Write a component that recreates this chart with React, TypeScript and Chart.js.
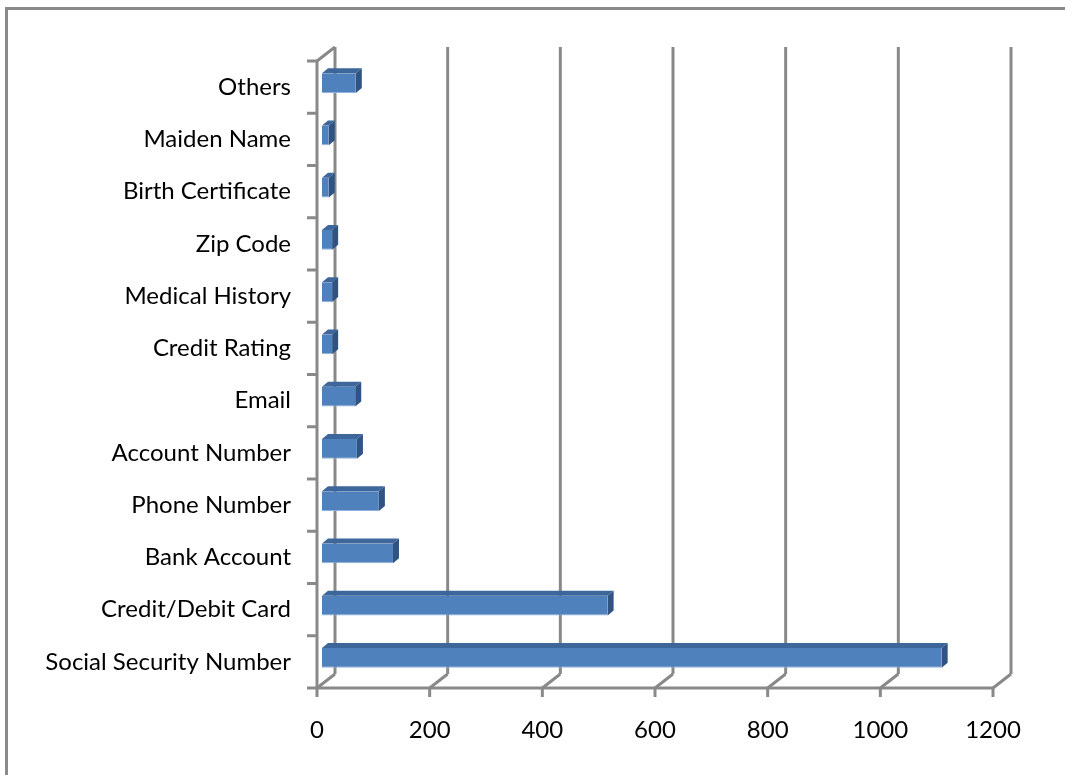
import React, { useEffect, useRef } from "react";
import { Chart, registerables } from "chart.js";

Chart.register(...registerables);

const categories = [
  "Others",
  "Maiden Name",
  "Birth Certificate",
  "Zip Code",
  "Medical History",
  "Credit Rating",
  "Email",
  "Account Number",
  "Phone Number",
  "Bank Account",
  "Credit/Debit Card",
  "Social Security Number",
];
const counts = [60, 12, 12, 18, 18, 18, 59, 62, 101, 126, 507, 1100];
const xTicks = [0, 200, 400, 600, 800, 1000, 1200];

const GRID = "#898989";
const FRONT = "#4f81bd";
const TOP = "#3d679b";
const SIDE = "#2f5483";
const WALL = { dx: 18, dy: -14 };
const BAR_SHIFT = { dx: 5, dy: -4 };
const BAR_DEPTH = { dx: 6, dy: -5 };

const frame3d = {
  id: "frame3d",
  beforeDatasetsDraw(chart: any) {
    const { ctx, chartArea, scales } = chart;
    const { left, right, top, bottom } = chartArea;
    const x = scales.x;
    const line = (x1: number, y1: number, x2: number, y2: number) => {
      ctx.beginPath();
      ctx.moveTo(x1, y1);
      ctx.lineTo(x2, y2);
      ctx.stroke();
    };
    ctx.save();
    ctx.strokeStyle = GRID;
    ctx.lineWidth = 3;
    ctx.lineCap = "butt";
    xTicks.forEach((v) => {
      const px = x.getPixelForValue(v);
      line(px + WALL.dx, top + WALL.dy, px + WALL.dx, bottom + WALL.dy);
      line(px, bottom, px + WALL.dx, bottom + WALL.dy);
      line(px, bottom, px, bottom + 9);
    });
    line(left, top, left, bottom);
    line(left, top, left + WALL.dx, top + WALL.dy);
    line(left - 1.5, bottom, right, bottom);
    const n = categories.length;
    for (let i = 0; i <= n; i++) {
      const yy = top + (i * (bottom - top)) / n;
      line(left - 10, yy, left, yy);
    }
    ctx.restore();
    ctx.save();
    ctx.translate(BAR_SHIFT.dx, BAR_SHIFT.dy);
  },
  afterDatasetsDraw(chart: any) {
    const { ctx } = chart;
    const meta = chart.getDatasetMeta(0);
    meta.data.forEach((el: any) => {
      const p = el.getProps(["x", "y", "base", "height"], true);
      const t = p.y - p.height / 2;
      const b = p.y + p.height / 2;
      ctx.fillStyle = TOP;
      ctx.beginPath();
      ctx.moveTo(p.base, t);
      ctx.lineTo(p.x, t);
      ctx.lineTo(p.x + BAR_DEPTH.dx, t + BAR_DEPTH.dy);
      ctx.lineTo(p.base + BAR_DEPTH.dx, t + BAR_DEPTH.dy);
      ctx.closePath();
      ctx.fill();
      ctx.fillStyle = SIDE;
      ctx.beginPath();
      ctx.moveTo(p.x, t);
      ctx.lineTo(p.x + BAR_DEPTH.dx, t + BAR_DEPTH.dy);
      ctx.lineTo(p.x + BAR_DEPTH.dx, b + BAR_DEPTH.dy);
      ctx.lineTo(p.x, b);
      ctx.closePath();
      ctx.fill();
    });
    ctx.restore();
  },
};

export default function App() {
  const ref = useRef<HTMLCanvasElement>(null);
  useEffect(() => {
    if (!ref.current) return;
    const font = { family: "Lato, 'Open Sans', sans-serif", size: 24 };
    const chart = new Chart(ref.current, {
      type: "bar",
      data: {
        labels: categories,
        datasets: [
          {
            data: counts,
            backgroundColor: FRONT,
            borderColor: "#8fb1dc",
            borderWidth: { top: 0, right: 0, left: 0, bottom: 1 },
            borderSkipped: false,
            categoryPercentage: 1,
            barPercentage: 0.38,
          },
        ],
      },
      options: {
        indexAxis: "y",
        animation: false,
        responsive: false,
        events: [],
        layout: { padding: { top: 61, right: 72, left: 0, bottom: 27 } },
        plugins: { legend: { display: false }, tooltip: { enabled: false } },
        scales: {
          x: {
            min: 0,
            max: 1200,
            afterBuildTicks: (s: any) => {
              s.ticks = xTicks.map((v) => ({ value: v }));
            },
            afterFit: (s: any) => {
              s.height = 60;
            },
            grid: { display: false, drawTicks: false },
            border: { display: false },
            ticks: {
              color: "#000",
              font,
              padding: 28,
              maxRotation: 0,
              callback: (v: any) => String(v),
            },
          },
          y: {
            afterFit: (s: any) => {
              s.width = 317;
            },
            grid: { display: false, drawTicks: false },
            border: { display: false },
            ticks: { color: "#000", font, padding: 26, autoSkip: false },
          },
        },
      },
      plugins: [frame3d],
    });
    return () => chart.destroy();
  }, []);
  return (
    <div style={{ position: "absolute", left: 0, top: 0, width: 1065, height: 775, background: "#fff", overflow: "hidden" }}>
      <div
        style={{
          position: "absolute",
          left: 5,
          top: 7,
          width: 1060,
          height: 768,
          borderTop: "3px solid #8a8a8a",
          borderLeft: "3px solid #8a8a8a",
          boxSizing: "border-box",
        }}
      />
      <canvas ref={ref} width={1065} height={775} style={{ position: "absolute", left: 0, top: 0 }} />
    </div>
  );
}
